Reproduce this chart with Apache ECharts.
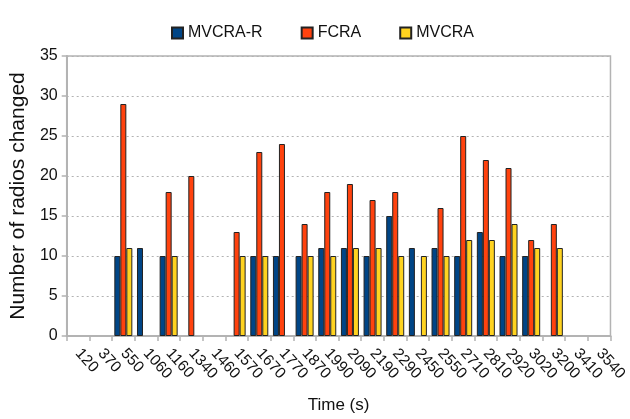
<!DOCTYPE html>
<html>
<head>
<meta charset="utf-8">
<script src="https://cdn.jsdelivr.net/npm/echarts@6/dist/echarts.min.js"></script>
<style>
html,body{margin:0;padding:0;background:#fff;}
#c{width:630px;height:419px;}
</style>
</head>
<body>
<div id="c"></div>
<script>
var categories = ['120','370','550','1060','1160','1340','1460','1570','1670','1770','1870','1990','2090','2190','2290','2450','2550','2710','2810','2920','3020','3200','3410','3540'];
var mvcraR = [null,null,10,11,10,null,null,null,10,10,10,11,11,10,15,11,11,10,13,10,10,null,null,null];
var fcra   = [null,null,29,null,18,20,null,13,23,24,14,18,19,17,18,null,16,25,22,21,12,14,null,null];
var mvcra  = [null,null,11,null,10,null,null,10,10,null,10,10,11,11,10,10,10,12,12,14,11,11,null,null];
var yTicks = {min:0, max:35, interval:5};

var FONT = "'Liberation Sans', Arial, sans-serif";
var chart = echarts.init(document.getElementById('c'), null, {renderer:'canvas'});
function barSeries(name, data, color){
  return {
    name: name, type: 'bar', data: data, barWidth: 6, barGap: '0%',
    itemStyle: {color: color, borderColor: '#222', borderWidth: 1},
    animation: false
  };
}
chart.setOption({
  backgroundColor: '#ffffff',
  animation: false,
  textStyle: {fontFamily: FONT},
  legend: {
    left: 166, top: 20, itemWidth: 11, itemHeight: 11, itemGap: 38, itemTextGap: 4,
    icon: 'rect',
    textStyle: {fontSize: 16, color: '#111', fontFamily: FONT},
    data: ['MVCRA-R','FCRA','MVCRA']
  },
  grid: {left: 62, right: 16, top: 56, bottom: 82, show: true, borderColor: '#b3b3b3', borderWidth: 1.5, containLabel: false},
  xAxis: {
    type: 'category', data: categories,
    name: 'Time (s)', nameLocation: 'middle', nameGap: 61,
    nameTextStyle: {fontSize: 17, color: '#111', fontFamily: FONT},
    axisLine: {lineStyle: {color: '#b3b3b3', width: 2}},
    axisTick: {show: true, length: 5, alignWithLabel: false, lineStyle: {color: '#b3b3b3', width: 1.5}},
    axisLabel: {rotate: -48, margin: 15, fontSize: 15.5, color: '#111', fontFamily: FONT, interval: 0},
    splitLine: {show: false}
  },
  yAxis: {
    type: 'value', min: yTicks.min, max: yTicks.max, interval: yTicks.interval,
    name: 'Number of radios changed', nameLocation: 'middle', nameGap: 28, nameRotate: 90,
    nameTextStyle: {fontSize: 21, color: '#111', fontFamily: FONT},
    axisLine: {show: true, lineStyle: {color: '#b3b3b3', width: 2}},
    axisTick: {show: true, length: 5, lineStyle: {color: '#b3b3b3', width: 1.5}},
    axisLabel: {fontSize: 16, color: '#111', margin: 9, fontFamily: FONT},
    splitLine: {show: true, lineStyle: {color: '#b3b3b3', type: [2,3], width: 1}}
  },
  series: [
    barSeries('MVCRA-R', mvcraR, '#004586'),
    barSeries('FCRA', fcra, '#ff420e'),
    barSeries('MVCRA', mvcra, '#ffd320')
  ]
});
</script>
</body>
</html>
